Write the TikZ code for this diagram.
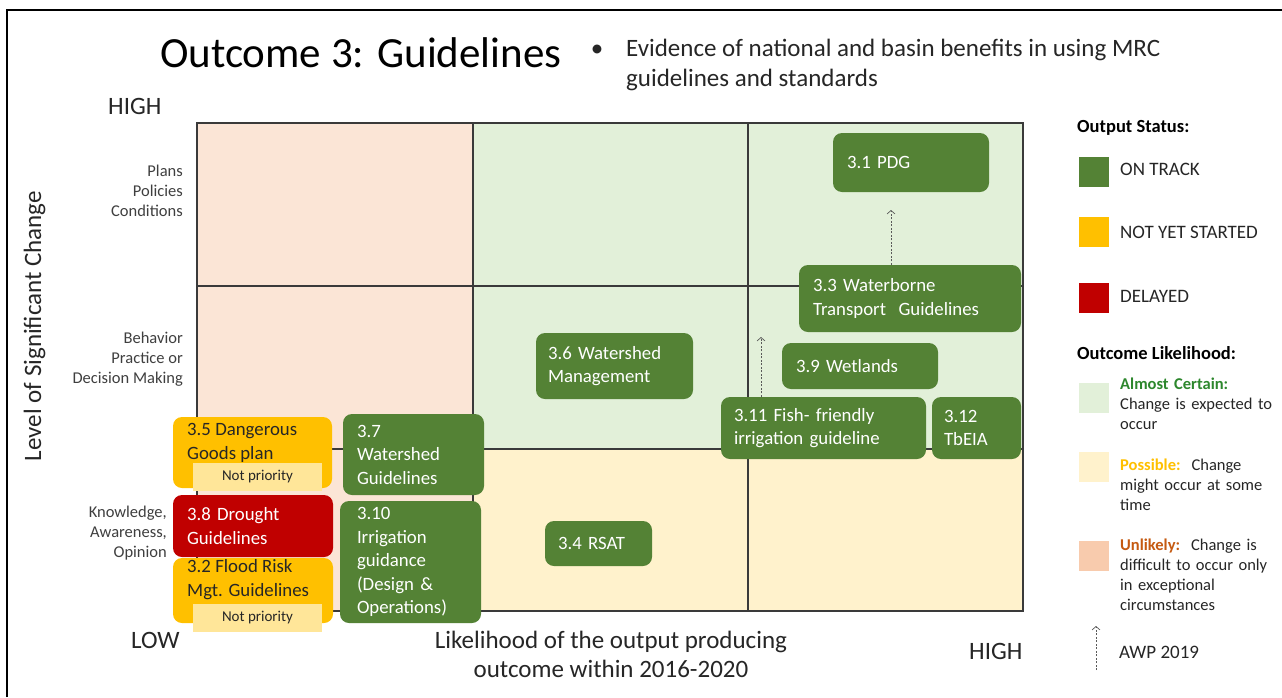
\documentclass[tikz,border=0pt]{standalone}
\usepackage{fontspec}
\setmainfont{Carlito}
\usetikzlibrary{arrows.meta}
\definecolor{ongreen}{HTML}{548235}
\definecolor{nysyellow}{HTML}{FFC000}
\definecolor{delred}{HTML}{C00000}
\definecolor{npyellow}{HTML}{FFE699}
\definecolor{cellgreen}{HTML}{E2F0D9}
\definecolor{cellyellow}{HTML}{FFF2CC}
\definecolor{cellpeach}{HTML}{FBE5D6}
\definecolor{legpeach}{HTML}{F8CBAD}
\definecolor{certgreen}{HTML}{2D872D}
\definecolor{unlorange}{HTML}{C55A11}
\definecolor{textdark}{HTML}{262626}
\definecolor{labelgray}{HTML}{3F3F3F}
\definecolor{gridgray}{HTML}{3A3A3A}
\definecolor{arrowgray}{HTML}{5A5A5A}
\newcommand\fsz[2]{\fontsize{#1}{#2}\selectfont}
\begin{document}
\begin{tikzpicture}[x=1pt,y=-1pt,
  every node/.style={inner sep=0pt},
  sbox/.style={rounded corners=9pt, inner ysep=0pt, align=left, font=\fsz{18.8}{23.5}},
  gbox/.style={sbox, fill=ongreen, text=white},
  ybox/.style={sbox, fill=nysyellow, text=textdark},
  rbox/.style={sbox, fill=delred, text=white},
  npbox/.style={fill=npyellow, font=\fsz{15}{18}, text=textdark, inner sep=0pt},
  swatch/.style={minimum width=30pt, minimum height=30pt, inner sep=0pt},
  gridline/.style={draw=gridgray, line width=1.3pt},
  awp/.style={draw=arrowgray, line width=0.8pt, dash pattern=on 2pt off 1.5pt,
    -{Straight Barb[length=3.5pt,width=8pt,line width=0.7pt]}},
  axistext/.style={font=\fsz{25}{29}, text=textdark},
  rowlabel/.style={font=\fsz{16.5}{20}, text=labelgray, align=right, anchor=base east},
  legtext/.style={font=\fsz{19}{22}, text=textdark, anchor=base west},
  legdesc/.style={font=\fsz{16.5}{20}, text=textdark, anchor=base west, align=left, text width=165pt},
  leghead/.style={font=\fsz{18.5}{22}\bfseries, text=black, anchor=base west}
]
\useasboundingbox (0,0) rectangle (1282,697);
\fill[white] (0,0) rectangle (1282,697);
% frame
\draw[line width=2pt, black] (7,697) -- (7,10) -- (1282,10);

% title
\node[anchor=base west, font=\fsz{43}{50}, text=black] (title) at (160,67) {Outcome 3: Guidelines};
\node[anchor=base, font=\fsz{25}{30}, text=textdark] (bullet) at (597,56) {•};
\node[anchor=base west, align=left, font=\fsz{25}{30}, text=textdark] (sub) at (626,86)
  {Evidence of national and basin benefits in using MRC\\guidelines and standards};

% grid cells
\fill[cellpeach] (197,123) rectangle (473,611);
\fill[cellgreen] (473,123) rectangle (1023,449);
\fill[cellyellow] (473,449) rectangle (1023,611);
\draw[gridline] (197,123) rectangle (1023,611);
\draw[gridline] (473,123) -- (473,611);
\draw[gridline] (748,123) -- (748,611);
\draw[gridline] (197,286) -- (1023,286);
\draw[gridline] (197,449) -- (1023,449);

% axes labels
\node[axistext, anchor=base west] (yhigh) at (108,114) {HIGH};
\node[axistext, anchor=base west] (xlow) at (131,648) {LOW};
\node[axistext, anchor=base west] (xhigh) at (969,659) {HIGH};
\node[axistext, anchor=base, align=center] (xlab) at (611,677)
  {Likelihood of the output producing\\outcome within 2016-2020};
\node[axistext, rotate=90, anchor=center] (ylab) at (34.5,326) {Level of Significant Change};

% row labels
\node[rowlabel] (r1) at (183,216) {Plans\\Policies\\Conditions};
\node[rowlabel] (r2) at (183,383) {Behavior\\Practice or\\Decision Making};
\node[rowlabel] (r3) at (167,557) {Knowledge,\\Awareness,\\Opinion};

% output boxes
\node[gbox, minimum width=156pt, minimum height=59pt, inner xsep=14pt, text width=128pt] (b31) at (911,162.5) {3.1 PDG};
\node[gbox, minimum width=222pt, minimum height=67pt, inner xsep=14pt, text width=194pt] (b33) at (910,298.5) {3.3 Waterborne\\Transport\ \ Guidelines};
\node[gbox, minimum width=156pt, minimum height=46pt, inner xsep=14pt, text width=128pt] (b39) at (860,366) {3.9 Wetlands};
\node[gbox, minimum width=205pt, minimum height=62pt, inner xsep=13pt, text width=179pt] (b311) at (823.5,428) {3.11 Fish- friendly\\irrigation guideline};
\node[gbox, minimum width=89pt, minimum height=62pt, inner xsep=12pt, text width=65pt] (b312) at (976.5,428) {3.12\\TbEIA};
\node[gbox, minimum width=157pt, minimum height=66pt, inner xsep=12pt, text width=133pt] (b36) at (614.5,366) {3.6 Watershed\\Management};
\node[gbox, minimum width=107pt, minimum height=45pt, inner xsep=13pt, text width=81pt] (b34) at (598.5,543.5) {3.4 RSAT};
\node[gbox, minimum width=141pt, minimum height=81pt, inner xsep=14pt, text width=113pt] (b37) at (413.5,454.5) {3.7\\Watershed\\Guidelines};
\node[gbox, minimum width=141pt, minimum height=122pt, inner xsep=17pt, text width=107pt] (b310) at (410.5,562) {3.10\\Irrigation\\guidance\\(Design \&\\Operations)};

% not yet started / delayed
\node[ybox, minimum width=159pt, minimum height=71pt] (b35) at (252.5,452.5) {};
\node[anchor=base west, align=left, font=\fsz{18.8}{23.5}, text=textdark] (t35) at (187,459) {3.5 Dangerous\\Goods plan};
\node[npbox, minimum width=129pt, minimum height=28pt] (np35) at (257.5,477) {Not priority};
\node[ybox, minimum width=160pt, minimum height=65pt] (b32) at (253,590.5) {};
\node[anchor=base west, align=left, font=\fsz{18.8}{23.5}, text=textdark] (t32) at (187,596) {3.2 Flood Risk\\Mgt. Guidelines};
\node[rbox, minimum width=160pt, minimum height=62pt, inner xsep=14pt, text width=132pt] (b38) at (253,526) {3.8 Drought\\Guidelines};
\node[npbox, minimum width=129pt, minimum height=28pt] (np32) at (257.5,618) {Not priority};

% AWP arrows
\coordinate (a1end) at (891,210);
\draw[awp] (b33.north -| a1end) -- (a1end);
\coordinate (a2end) at (761,337);
\draw[awp] (b311.north -| a2end) -- (a2end);

% legend
\node[leghead] (lh1) at (1077,132) {Output Status:};
\node[swatch, fill=ongreen] (sw1) at (1094,172) {};
\node[legtext] (l1) at (1120,175) {ON TRACK};
\node[swatch, fill=nysyellow] (sw2) at (1094,232) {};
\node[legtext] (l2) at (1120,238) {NOT YET STARTED};
\node[swatch, fill=delred] (sw3) at (1094,297.5) {};
\node[legtext] (l3) at (1120,302) {DELAYED};
\node[leghead] (lh2) at (1077,359) {Outcome Likelihood:};
\node[swatch, fill=cellgreen] (sw4) at (1094,398) {};
\node[legdesc] (d1) at (1120,389) {{\bfseries\color{certgreen}Almost Certain:}\\Change is expected to\\occur};
\node[swatch, fill=cellyellow] (sw5) at (1094,466.5) {};
\node[legdesc] (d2) at (1120,470) {{\bfseries\color{nysyellow}Possible:}\ \ Change\\might occur at some\\time};
\node[swatch, fill=legpeach] (sw6) at (1094,555.5) {};
\node[legdesc] (d3) at (1120,550) {{\bfseries\color{unlorange}Unlikely:}\ \ Change is\\difficult to occur only\\in exceptional\\circumstances};
\coordinate (la1) at (1096,670);
\coordinate (la2) at (1096,626);
\draw[awp] (la1) -- (la2);
\node[legtext] (l4) at (1119,658) {AWP 2019};
\end{tikzpicture}
\end{document}
